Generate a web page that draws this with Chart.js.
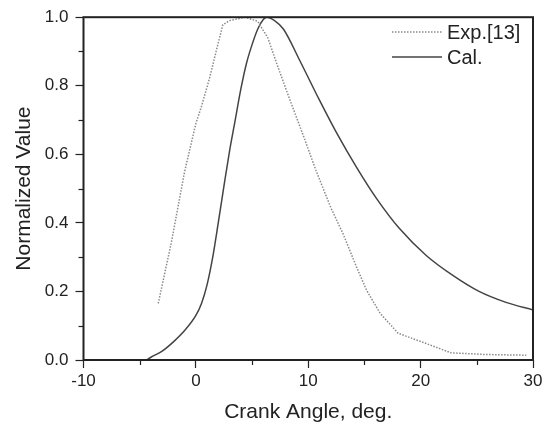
<!DOCTYPE html>
<html>
<head>
<meta charset="utf-8">
<script src="https://cdn.jsdelivr.net/npm/chart.js@4/dist/chart.umd.min.js"></script>
<style>
	html, body { margin: 0; padding: 0; background: #fff; }
	#wrap { width: 553px; height: 427px; }
</style>
</head>
<body>
<div id="wrap"><canvas id="chart"></canvas></div>
<script>
// values
const expAngle = [-3.35, -2.2, -1.0, 0.0, 0.5, 1.2, 1.8, 2.4, 3.0, 4.4, 5.5, 6.4, 7.3, 8.4, 9.5, 10.7, 12.0, 13.1, 14.3, 15.2, 16.4, 18.0, 20.5, 22.7, 25.8, 29.4];
const expValue = [0.165, 0.34, 0.55, 0.69, 0.74, 0.82, 0.9, 0.978, 0.99, 1.0, 0.988, 0.94, 0.855, 0.756, 0.66, 0.552, 0.445, 0.368, 0.271, 0.203, 0.136, 0.078, 0.048, 0.021, 0.016, 0.014];

const calAngle = [-4.4, -4.0, -3.0, -2.0, -1.0, 0.0, 0.5, 1.0, 1.5, 2.0, 2.5, 3.0, 3.5, 4.0, 4.5, 5.0, 5.5, 6.0, 6.3, 7.0, 7.8, 9.3, 11.0, 12.5, 14.3, 16.1, 18.1, 20.5, 22.9, 25.2, 27.6, 30];
const calValue = [0, 0.008, 0.026, 0.053, 0.086, 0.13, 0.165, 0.22, 0.3, 0.402, 0.508, 0.61, 0.70, 0.79, 0.865, 0.92, 0.965, 0.993, 1.0, 0.99, 0.965, 0.87, 0.758, 0.664, 0.562, 0.47, 0.384, 0.305, 0.246, 0.2, 0.168, 0.146];

const seriesNames = ['Exp.[13]', 'Cal.'];
const xTitle = 'Crank Angle, deg.';
const yTitle = 'Normalized Value';

const ink = '#222';
const font = 'Liberation Sans, Arial, sans-serif';

function toPoints(xs, ys) {
	return xs.map((x, i) => ({x: x, y: ys[i]}));
}

// frame, minor ticks and the legend inside the plot
const framePlugin = {
	id: 'frame',
	afterDraw(chart) {
		const ctx = chart.ctx;
		const a = chart.chartArea;
		const xs = chart.scales.x, ys = chart.scales.y;
		ctx.save();
		ctx.strokeStyle = ink;
		ctx.lineWidth = 1.2;
		for (let v = -5; v < 30; v += 10) {
			const px = Math.round(xs.getPixelForValue(v)) + 0.5;
			ctx.beginPath(); ctx.moveTo(px, a.bottom); ctx.lineTo(px, a.bottom + 5); ctx.stroke();
		}
		for (let v = 0.1; v < 1; v += 0.2) {
			const py = Math.round(ys.getPixelForValue(v)) + 0.5;
			ctx.beginPath(); ctx.moveTo(a.left, py); ctx.lineTo(a.left - 5, py); ctx.stroke();
		}
		ctx.lineWidth = 2;
		ctx.strokeRect(a.left, a.top, a.right - a.left, a.bottom - a.top);

		// legend
		const rows = [32, 57];
		chart.data.datasets.forEach((ds, i) => {
			ctx.strokeStyle = ds.borderColor;
			ctx.lineWidth = ds.borderWidth;
			ctx.setLineDash(ds.borderDash || []);
			ctx.beginPath(); ctx.moveTo(392, rows[i]); ctx.lineTo(442, rows[i]); ctx.stroke();
			ctx.setLineDash([]);
			ctx.fillStyle = ink;
			ctx.font = '20px ' + font;
			ctx.textBaseline = 'middle';
			ctx.fillText(ds.label, 447, rows[i] + 1);
		});
		ctx.restore();
	}
};

new Chart(document.getElementById('chart'), {
	type: 'line',
	data: {
		datasets: [
			{
				label: seriesNames[0],
				data: toPoints(expAngle, expValue),
				borderColor: '#8a8a8a',
				borderWidth: 1.5,
				borderDash: [1.5, 1.5],
				pointRadius: 0,
				tension: 0
			},
			{
				label: seriesNames[1],
				data: toPoints(calAngle, calValue),
				borderColor: '#444',
				borderWidth: 1.5,
				pointRadius: 0,
				cubicInterpolationMode: 'monotone'
			}
		]
	},
	options: {
		responsive: true,
		maintainAspectRatio: false,
		animation: false,
		layout: { padding: { top: 16, right: 20, left: 0, bottom: 0 } },
		plugins: { legend: { display: false }, tooltip: { enabled: false } },
		scales: {
			x: {
				type: 'linear',
				min: -10, max: 30,
				grid: { drawOnChartArea: false, tickLength: 8, tickColor: ink, tickWidth: 1.2 },
				border: { display: false },
				ticks: { stepSize: 10, color: ink, font: { family: font, size: 17 }, padding: 3 },
				title: { display: true, text: xTitle, color: ink, font: { family: font, size: 21 }, padding: { top: 0, bottom: 2 } },
				afterFit: s => { s.height = 67; }
			},
			y: {
				min: 0, max: 1,
				grid: { drawOnChartArea: false, tickLength: 8, tickColor: ink, tickWidth: 1.2 },
				border: { display: false },
				ticks: { stepSize: 0.2, color: ink, font: { family: font, size: 17 }, padding: 7, callback: v => v.toFixed(1) },
				title: { display: true, text: yTitle, color: ink, font: { family: font, size: 21 }, padding: { top: 12, bottom: 0 } },
				afterFit: s => { s.width = 83.5; }
			}
		}
	},
	plugins: [framePlugin]
});
</script>
</body>
</html>
